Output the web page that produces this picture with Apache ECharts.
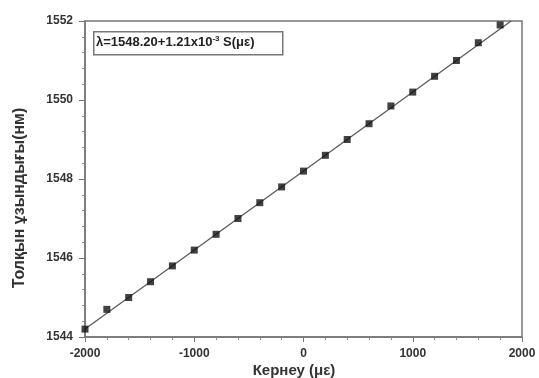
<!DOCTYPE html>
<html>
<head>
<meta charset="utf-8">
<script src="https://cdn.jsdelivr.net/npm/echarts@6/dist/echarts.min.js"></script>
<style>
  html, body { margin: 0; padding: 0; background: #fff; }
  #chart { width: 539px; height: 378px; }
</style>
</head>
<body>
<div id="chart"></div>
<script>
// strain (με) and measured wavelength (nm)
var strain = [-2000, -1800, -1600, -1400, -1200, -1000, -800, -600, -400, -200,
              0, 200, 400, 600, 800, 1000, 1200, 1400, 1600, 1800];
var wavelength = [1544.2, 1544.7, 1545.0, 1545.4, 1545.8, 1546.2, 1546.6, 1547.0, 1547.4, 1547.8,
                  1548.2, 1548.6, 1549.0, 1549.4, 1549.85, 1550.2, 1550.6, 1551.0, 1551.45, 1551.9];
// fitted line end points
var fitX = [-2000, 1900];
var fitY = [1544.2, 1552.0];

var font = '"Liberation Sans", Arial, sans-serif';
var chart = echarts.init(document.getElementById('chart'));

chart.setOption({
  animation: false,
  grid: {
    left: 85, right: 17, top: 21, bottom: 41,
    show: true, borderColor: '#777', borderWidth: 1.5
  },
  xAxis: {
    type: 'value',
    min: -2000, max: 2000, interval: 1000,
    axisLine: { onZero: false, lineStyle: { color: '#777', width: 1.5 } },
    axisTick: { length: 5, lineStyle: { color: '#777' } },
    minorTick: { show: true, splitNumber: 5, length: 3, lineStyle: { color: '#888' } },
    splitLine: { show: false },
    axisLabel: {
      fontFamily: font, fontSize: 12, fontWeight: 'bold', color: '#333', margin: 11,
      formatter: function (v) { return String(v); }
    }
  },
  yAxis: {
    type: 'value',
    min: 1544, max: 1552, interval: 2,
    axisLine: { onZero: false, lineStyle: { color: '#777', width: 1.5 } },
    axisTick: { length: 6, lineStyle: { color: '#777' } },
    minorTick: { show: true, splitNumber: 5, length: 3, lineStyle: { color: '#888' } },
    splitLine: { show: false },
    axisLabel: {
      fontFamily: font, fontSize: 12, fontWeight: 'bold', color: '#333', margin: 12,
      formatter: function (v) { return String(v); }
    }
  },
  series: [
    {
      type: 'line',
      data: fitX.map(function (x, i) { return [x, fitY[i]]; }),
      showSymbol: false,
      lineStyle: { color: '#555', width: 1.2 },
      z: 1
    },
    {
      type: 'scatter',
      data: strain.map(function (x, i) { return [x, wavelength[i]]; }),
      symbol: 'rect',
      symbolSize: 7,
      itemStyle: { color: '#111' },
      z: 2
    }
  ],
  graphic: [
    {
      type: 'rect',
      left: 93, top: 31,
      shape: { width: 189, height: 23 },
      style: { fill: '#fff', stroke: '#777', lineWidth: 1.5 }
    },
    {
      type: 'text',
      left: 96, top: 35,
      style: {
        text: 'λ=1548.20+1.21x10{sup|-3} S(με)',
        fontFamily: font, fontSize: 13, fontWeight: 'bold', fill: '#222',
        rich: {
          sup: { fontSize: 8, fontWeight: 'bold', verticalAlign: 'top', padding: [0, 0, 6, 0], fontFamily: font, fill: '#222' }
        }
      }
    },
    {
      type: 'text',
      x: 20, y: 198, rotation: Math.PI / 2,
      style: {
        text: 'Толқын ұзындығы(нм)',
        fontFamily: font, fontSize: 16, fontWeight: 'bold', fill: '#333',
        align: 'center', verticalAlign: 'middle'
      }
    },
    {
      type: 'text',
      x: 294, y: 371,
      style: {
        text: 'Кернеу (με)',
        fontFamily: font, fontSize: 15, fontWeight: 'bold', fill: '#333',
        align: 'center', verticalAlign: 'middle'
      }
    }
  ]
});
</script>
</body>
</html>
